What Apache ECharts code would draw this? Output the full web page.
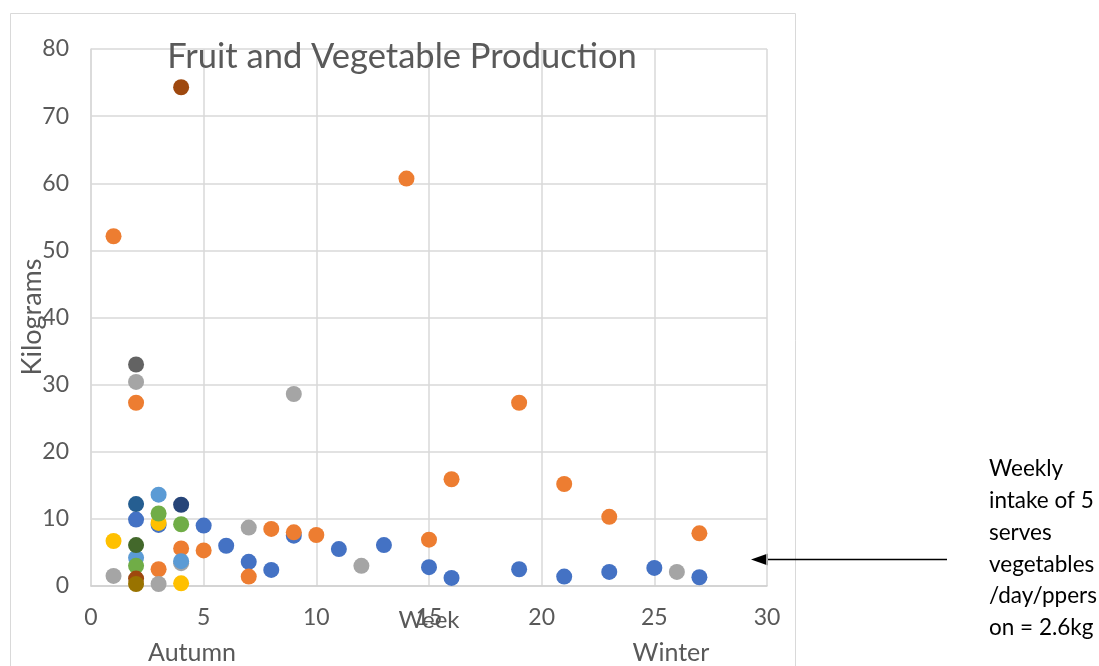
<!DOCTYPE html>
<html>
<head>
<meta charset="utf-8">
<script src="https://cdn.jsdelivr.net/npm/echarts@6/dist/echarts.min.js"></script>
<style>
html,body{margin:0;padding:0;background:#fff;}
#chart{width:1099px;height:666px;}
</style>
</head>
<body>
<div id="chart"></div>
<script>
// ---- Data: [week, kilograms] ----
const chartTitle = 'Fruit and Vegetable Production';
const xAxisTitle = 'Week';
const yAxisTitle = 'Kilograms';
const xTicks = [0, 5, 10, 15, 20, 25, 30];
const yTicks = [0, 10, 20, 30, 40, 50, 60, 70, 80];
const seasonLabels = ['Autumn', 'Winter'];
const noteLines = ['Weekly', 'intake of 5', 'serves', 'vegetables', '/day/ppers', 'on = 2.6kg'];

const s1Blue = [[2,9.9],[3,9.1],[5,9.0],[6,6.0],[7,3.6],[8,2.4],[9,7.5],[11,5.5],[13,6.1],[15,2.8],[16,1.2],[19,2.5],[21,1.4],[23,2.1],[25,2.7],[27,1.3]];
const s2Orange = [[1,52.1],[2,27.3],[3,2.5],[4,5.6],[5,5.3],[7,1.4],[8,8.5],[9,8.0],[10,7.6],[14,60.7],[15,6.9],[16,15.9],[19,27.3],[21,15.2],[23,10.3],[27,7.85]];
const s3Gray = [[1,1.5],[2,30.4],[3,0.3],[4,3.4],[7,8.7],[9,28.6],[12,3.0],[26,2.1]];
const s4Yellow = [[1,6.7],[3,9.4],[4,0.4]];
const s5LightBlue = [[2,4.2],[3,13.6],[4,3.7]];
const s6Green = [[2,3.0],[3,10.8],[4,9.2]];
const s7Navy = [[4,12.1]];
const s8Brown = [[2,1.1],[4,74.3]];
const s9DarkGray = [[2,33.0]];
const s10Olive = [[2,0.3]];
const s11DarkBlue = [[2,12.2]];
const s12DarkGreen = [[2,6.1]];

const seriesList = [
  {name:'S1', data:s1Blue, color:'#4472C4'},
  {name:'S2', data:s2Orange, color:'#ED7D31'},
  {name:'S3', data:s3Gray, color:'#A5A5A5'},
  {name:'S4', data:s4Yellow, color:'#FFC000'},
  {name:'S5', data:s5LightBlue, color:'#5B9BD5'},
  {name:'S6', data:s6Green, color:'#70AD47'},
  {name:'S7', data:s7Navy, color:'#264478'},
  {name:'S8', data:s8Brown, color:'#9E480E'},
  {name:'S9', data:s9DarkGray, color:'#636363'},
  {name:'S10', data:s10Olive, color:'#997300'},
  {name:'S11', data:s11DarkBlue, color:'#255E91'},
  {name:'S12', data:s12DarkGreen, color:'#43682B'}
];

const FONT = 'Lato, "Open Sans", sans-serif';
const TXT = '#595959';

const chart = echarts.init(document.getElementById('chart'), null, {renderer:'canvas'});

const graphics = [
  {type:'rect', shape:{x:10.5, y:13.5, width:785, height:700}, style:{fill:'none', stroke:'#d9d9d9', lineWidth:1}, z:-10},
  {type:'text', x:402, y:57, style:{text:chartTitle, fontFamily:FONT, fontSize:34.5, fill:TXT, textAlign:'center', textVerticalAlign:'middle'}, z:10},
  {type:'text', x:429, y:620, style:{text:xAxisTitle, fontFamily:FONT, fontSize:24, fill:TXT, textAlign:'center', textVerticalAlign:'middle'}, z:10},
  {type:'text', x:32, y:317, rotation:Math.PI/2, style:{text:yAxisTitle, fontFamily:FONT, fontSize:27, fill:TXT, textAlign:'center', textVerticalAlign:'middle'}, z:10},
  {type:'text', x:192, y:653, style:{text:seasonLabels[0], fontFamily:FONT, fontSize:25, fill:TXT, textAlign:'center', textVerticalAlign:'middle'}},
  {type:'text', x:671, y:653, style:{text:seasonLabels[1], fontFamily:FONT, fontSize:25, fill:TXT, textAlign:'center', textVerticalAlign:'middle'}},
  {type:'line', shape:{x1:947, y1:559.5, x2:764, y2:559.5}, style:{stroke:'#000', lineWidth:1.5}},
  {type:'polygon', shape:{points:[[751,559.5],[768,553.5],[768,565.5]]}, style:{fill:'#000'}}
];
noteLines.forEach((t, i) => {
  graphics.push({type:'text', x:989, y:469 + i*31.8, style:{text:t, fontFamily:FONT, fontSize:22.5, fill:'#000', textAlign:'left', textVerticalAlign:'middle'}});
});

const option = {
  backgroundColor:'#fff',
  animation:false,
  grid:{left:91, right:332, top:49, bottom:80, containLabel:false},
  xAxis:{
    type:'value', min:xTicks[0], max:xTicks[xTicks.length-1], interval:5,
    axisLine:{show:true, lineStyle:{color:'#d0d0d0', width:1.5}},
    axisTick:{show:false},
    axisLabel:{margin:20, fontFamily:FONT, fontSize:23, color:TXT},
    splitLine:{show:true, lineStyle:{color:'#d9d9d9', width:1.5}}
  },
  yAxis:{
    type:'value', min:yTicks[0], max:yTicks[yTicks.length-1], interval:10,
    axisLine:{show:true, lineStyle:{color:'#d9d9d9', width:1.5}},
    axisTick:{show:false},
    axisLabel:{margin:22, fontFamily:FONT, fontSize:23, color:TXT},
    splitLine:{show:true, lineStyle:{color:'#d9d9d9', width:1.5}}
  },
  graphic:graphics,
  series:seriesList.map(s => ({
    name:s.name, type:'scatter', data:s.data, symbol:'circle', symbolSize:16,
    itemStyle:{color:s.color, opacity:1}, z:2
  }))
};
chart.setOption(option);
</script>
</body>
</html>
